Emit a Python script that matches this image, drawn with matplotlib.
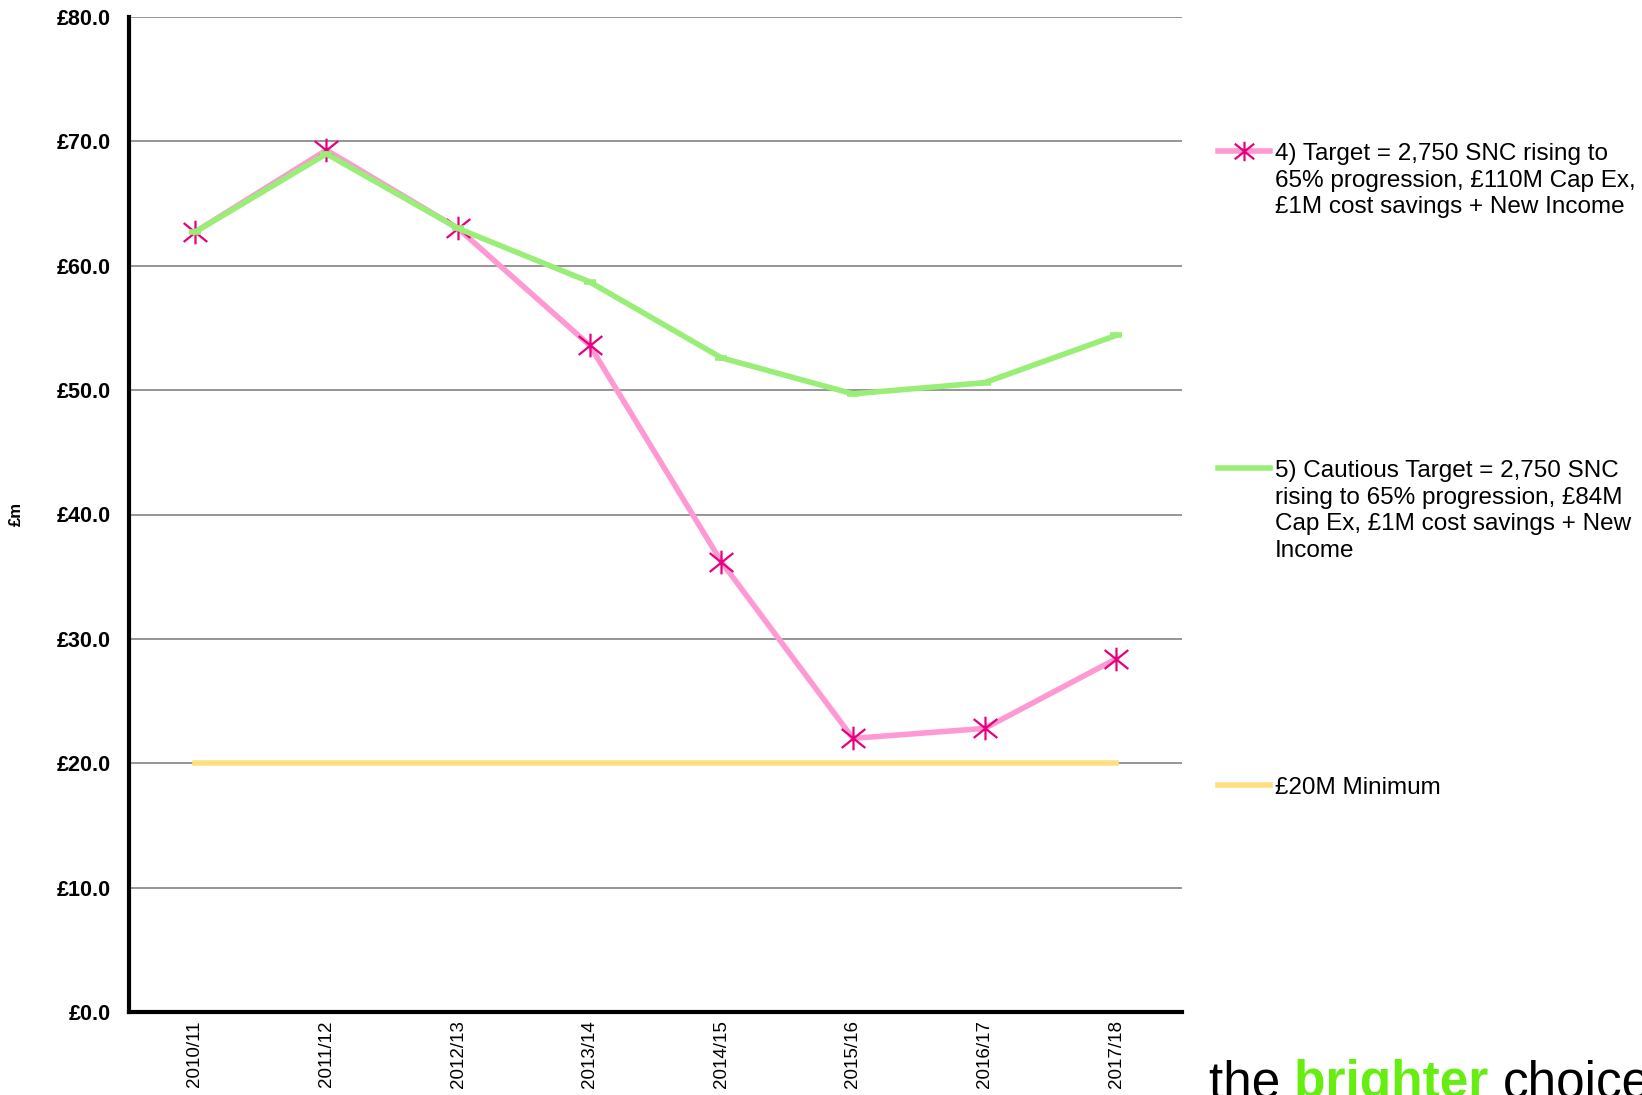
import matplotlib

matplotlib.use("Agg")
import matplotlib.pyplot as plt
from matplotlib.lines import Line2D
from matplotlib.path import Path

plt.rcParams["font.family"] = ["Liberation Sans", "DejaVu Sans"]

years = ["2010/11", "2011/12", "2012/13", "2013/14",
         "2014/15", "2015/16", "2016/17", "2017/18"]
target = [62.7, 69.3, 63.0, 53.6, 36.2, 22.0, 22.8, 28.4]
cautious = [62.7, 69.0, 63.0, 58.7, 52.6, 49.7, 50.6, 54.4]
minimum = [20.0, 20.0, 20.0, 20.0, 20.0, 20.0, 20.0, 20.0]
yticks = [0, 10, 20, 30, 40, 50, 60, 70, 80]

labels = [
    "4) Target = 2,750 SNC rising to\n65% progression, £110M Cap Ex,\n"
    "£1M cost savings + New Income",
    "5) Cautious Target = 2,750 SNC\nrising to 65% progression, £84M\n"
    "Cap Ex, £1M cost savings + New\nIncome",
    "£20M Minimum",
]

PINK = "#ff99d3"
MAGENTA = "#e6007e"
GREEN = "#99ee77"
YELLOW = "#ffdf80"
LW = 4.0

# excel style star: an X with a vertical bar through it
STAR = Path([(-1, -0.8), (1, 0.8), (-1, 0.8), (1, -0.8), (0, -1), (0, 1)],
            [Path.MOVETO, Path.LINETO] * 3)

fig = plt.figure(figsize=(16.42, 10.95), dpi=100)
ax = fig.add_axes([129 / 1642, 1 - 1012 / 1095, 1053 / 1642, 995 / 1095])

x = list(range(len(years)))
ax.plot(x, target, color=PINK, lw=LW, marker=STAR, ms=17,
        mec=MAGENTA, mfc="none", mew=1.6, zorder=3)
ax.plot(x, cautious, color=GREEN, lw=LW, marker="_", ms=9, mew=4,
        zorder=4)
ax.plot(x, minimum, color=YELLOW, lw=LW, zorder=4)

ax.set_xlim(-0.5, len(years) - 0.5)
ax.set_ylim(0, 80)
ax.set_yticks(yticks)
ax.set_yticklabels([f"£{v:.1f}" for v in yticks], fontsize=15.5,
                   fontweight="bold")
ax.set_xticks(x)
ax.set_xticklabels(years, rotation=90, fontsize=13.5)
ax.tick_params(length=0, pad=6)
ax.tick_params(axis="y", pad=13)
ax.grid(axis="y", color="#8c8c8c", lw=1.3)
ax.set_axisbelow(True)
for s in ("top", "right"):
    ax.spines[s].set_visible(False)
for s in ("left", "bottom"):
    ax.spines[s].set_linewidth(3)
ax.set_ylabel("£m", fontsize=12, fontweight="bold")
ax.yaxis.set_label_coords(-0.0995, 0.5)

# legend keys on the right, text aligned to the first line
W, H = 1642, 1095
keys = [
    dict(color=PINK, lw=LW, marker=STAR, ms=14, mec=MAGENTA, mfc="none",
         mew=1.6, markevery=[1]),
    dict(color=GREEN, lw=LW),
    dict(color=YELLOW, lw=LW),
]
key_y = [151, 468, 785]
for kw, lab, ky in zip(keys, labels, key_y):
    yf = 1 - ky / H
    fig.add_artist(Line2D([1218 / W, 1244 / W, 1270 / W], [yf, yf, yf],
                          transform=fig.transFigure, **kw))
    fig.text(1275 / W, 1 - (ky - 8) / H, lab, fontsize=17.5, va="top",
             ha="left", linespacing=1.27)

# footer tagline
fig.canvas.draw()
r = fig.canvas.get_renderer()
xpos = 1209 / W
for part, col, wt in (("the ", "black", "normal"),
                      ("brighter ", "#66ee11", "bold"),
                      ("choice", "black", "normal")):
    t = fig.text(xpos, -2 / H, part, fontsize=37, color=col,
                 fontweight=wt, va="baseline", ha="left")
    xpos += t.get_window_extent(renderer=r).width / fig.bbox.width

fig.savefig("out.png", dpi=100)
